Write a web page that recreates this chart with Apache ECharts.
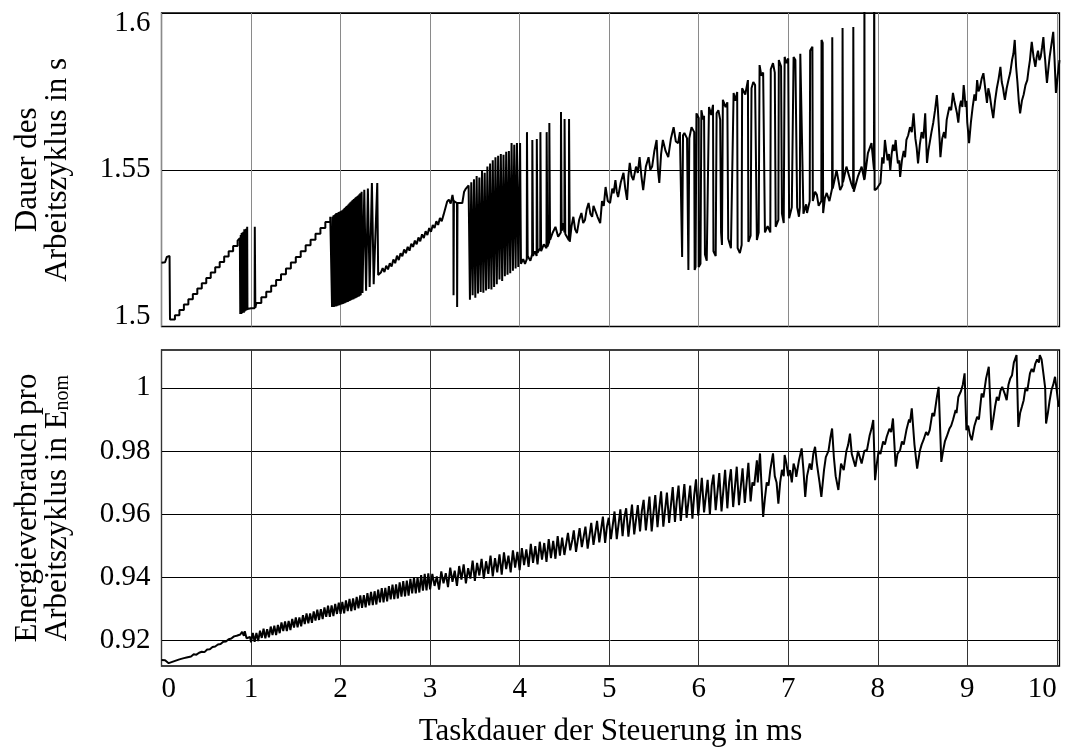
<!DOCTYPE html>
<html>
<head>
<meta charset="utf-8">
<script src="https://cdn.jsdelivr.net/npm/echarts@6/dist/echarts.min.js"></script>
<style>
html,body{margin:0;padding:0;background:#fff;}
#chart{width:1066px;height:749px;}
</style>
</head>
<body>
<div id="chart"></div>
<script>
// ---- Top panel: Dauer des Arbeitszyklus (s) vs Taskdauer (ms) ----
const cycleStart = [[0,1.5203],[0.04,1.5205],[0.06,1.5222],[0.09,1.5225],[0.095,1.5022],[0.15,1.5022],[0.15,1.5036],[0.2,1.5036],[0.2,1.5053],[0.25,1.5053],[0.25,1.507],[0.3,1.507],[0.3,1.5087],[0.35,1.5087],[0.35,1.5104],[0.4,1.5104],[0.4,1.5121],[0.45,1.5121],[0.45,1.5138],[0.5,1.5138],[0.5,1.5155],[0.55,1.5155],[0.55,1.5172],[0.6,1.5172],[0.6,1.5189],[0.65,1.5189],[0.65,1.5206],[0.7,1.5206],[0.7,1.5223],[0.75,1.5223],[0.75,1.524],[0.8,1.524],[0.8,1.5257],[0.85,1.5257],[0.85,1.5274],[0.875,1.5282]];
const cycleBurst1 = [[0.88,1.504],[0.885,1.5292],[0.89,1.504],[0.895,1.5298],[0.9,1.5042],[0.905,1.53],[0.91,1.5045],[0.915,1.5302],[0.92,1.5044],[0.925,1.531],[0.93,1.5048],[0.935,1.5305],[0.94,1.505],[0.945,1.5312],[0.95,1.5052],[0.957,1.5318],[0.96,1.5056],[1.0,1.5058],[1.04,1.5058],[1.042,1.5318],[1.046,1.5318],[1.048,1.506],[1.06,1.506]];
const cycleStairs2 = [[1.06,1.5075],[1.115,1.5075],[1.115,1.5093],[1.17,1.5093],[1.17,1.5111],[1.225,1.5111],[1.225,1.513],[1.28,1.513],[1.28,1.5148],[1.335,1.5148],[1.335,1.5167],[1.39,1.5167],[1.39,1.5185],[1.445,1.5185],[1.445,1.5204],[1.5,1.5204],[1.5,1.5222],[1.555,1.5222],[1.555,1.524],[1.61,1.524],[1.61,1.5259],[1.665,1.5259],[1.665,1.5277],[1.72,1.5277],[1.72,1.5296],[1.775,1.5296],[1.775,1.5314],[1.83,1.5314],[1.83,1.5333],[1.885,1.5333],[1.885,1.535],[1.9,1.5352]];
const cycleBurst2 = [[1.905,1.5062],[1.91,1.535],[1.915,1.5063],[1.92,1.5354],[1.925,1.5062],[1.93,1.5356],[1.935,1.5064],[1.94,1.5358],[1.945,1.5064],[1.95,1.5361],[1.955,1.5065],[1.96,1.5362],[1.965,1.5066],[1.97,1.5363],[1.975,1.5067],[1.98,1.5365],[1.985,1.5068],[1.99,1.5366],[1.995,1.5069],[2.0,1.5368],[2.005,1.507],[2.01,1.5369],[2.015,1.5071],[2.02,1.5371],[2.025,1.5072],[2.03,1.5373],[2.035,1.5073],[2.04,1.5376],[2.045,1.5074],[2.05,1.5379],[2.055,1.5076],[2.06,1.5382],[2.065,1.5077],[2.07,1.5384],[2.075,1.5078],[2.08,1.5387],[2.085,1.5079],[2.09,1.539],[2.095,1.5081],[2.1,1.5393],[2.105,1.5082],[2.11,1.5396],[2.115,1.5084],[2.12,1.5399],[2.125,1.5085],[2.13,1.5402],[2.135,1.5086],[2.14,1.5404],[2.145,1.5087],[2.15,1.5407],[2.155,1.5089],[2.16,1.5409],[2.165,1.509],[2.17,1.5412],[2.175,1.5092],[2.18,1.5414],[2.185,1.5093],[2.19,1.5416],[2.195,1.5095],[2.2,1.5419],[2.205,1.5096],[2.21,1.5422],[2.215,1.5098],[2.22,1.5425],[2.225,1.51],[2.235,1.543],[2.245,1.5107],[2.265,1.5436],[2.285,1.5114],[2.305,1.544],[2.325,1.5126],[2.35,1.5458],[2.37,1.5135],[2.38,1.514],[2.41,1.5458],[2.42,1.5164]];
const cycleRise3 = [[2.45,1.5172],[2.47,1.5186],[2.49,1.5174],[2.51,1.5194],[2.53,1.5182],[2.55,1.5202],[2.57,1.5191],[2.59,1.5214],[2.61,1.5202],[2.63,1.5226],[2.65,1.5212],[2.67,1.5234],[2.69,1.5224],[2.71,1.5246],[2.73,1.5234],[2.75,1.5254],[2.77,1.5242],[2.79,1.5264],[2.81,1.5254],[2.83,1.5274],[2.85,1.5262],[2.87,1.5284],[2.89,1.5272],[2.91,1.5294],[2.93,1.5282],[2.95,1.5304],[2.97,1.5292],[2.99,1.5314],[3.01,1.5302],[3.03,1.5324],[3.05,1.5314],[3.07,1.5336],[3.09,1.5324],[3.11,1.5346],[3.13,1.5336],[3.15,1.5356],[3.17,1.5362],[3.19,1.5398],[3.21,1.5405],[3.23,1.5392],[3.25,1.542],[3.26,1.5402],[3.262,1.51],[3.266,1.54],[3.28,1.5398],[3.3,1.5394],[3.302,1.5062],[3.306,1.5394],[3.33,1.5394],[3.36,1.5394],[3.38,1.543],[3.4,1.544],[3.42,1.5445]];
const cycleBurst3 = [[3.43,1.545],[3.445,1.5085],[3.46,1.546],[3.475,1.51],[3.49,1.547],[3.505,1.5092],[3.52,1.548],[3.535,1.5105],[3.55,1.5475],[3.565,1.511],[3.58,1.5499],[3.595,1.5108],[3.61,1.549],[3.625,1.5115],[3.64,1.551],[3.655,1.512],[3.67,1.552],[3.685,1.5118],[3.7,1.553],[3.715,1.5126],[3.73,1.554],[3.745,1.5135],[3.76,1.5545],[3.775,1.515],[3.79,1.555],[3.805,1.5145],[3.82,1.5548],[3.835,1.516],[3.85,1.5557],[3.865,1.5165],[3.88,1.556],[3.895,1.517],[3.91,1.5585],[3.925,1.5178],[3.94,1.558],[3.955,1.5185],[3.97,1.5585],[3.985,1.519],[4.0,1.5195],[4.005,1.5585],[4.015,1.52],[4.04,1.5215],[4.06,1.52],[4.08,1.5215],[4.082,1.562],[4.09,1.5225],[4.12,1.521],[4.14,1.523],[4.142,1.5595],[4.15,1.5225],[4.17,1.524],[4.19,1.5225],[4.192,1.5598],[4.2,1.5235],[4.23,1.525],[4.232,1.562],[4.24,1.524],[4.27,1.5262],[4.3,1.525],[4.302,1.562],[4.31,1.5255],[4.33,1.527],[4.332,1.5649],[4.34,1.5276],[4.37,1.53],[4.4,1.5318],[4.43,1.5286],[4.46,1.53],[4.462,1.5684],[4.47,1.5305],[4.49,1.533],[4.5,1.53],[4.502,1.5662],[4.51,1.5295],[4.53,1.5298],[4.55,1.5275],[4.552,1.5662],[4.56,1.527]];
const cycleRise4 = [[4.58,1.532],[4.6,1.535],[4.62,1.531],[4.64,1.5298],[4.665,1.534],[4.69,1.5362],[4.71,1.533],[4.73,1.534],[4.75,1.5375],[4.77,1.5394],[4.79,1.536],[4.81,1.535],[4.825,1.5385],[4.84,1.5381],[4.87,1.535],[4.9,1.533],[4.92,1.54],[4.94,1.5385],[4.96,1.5445],[4.985,1.54],[5.01,1.5394],[5.035,1.544],[5.05,1.5425],[5.07,1.5467],[5.085,1.543],[5.1,1.5413],[5.13,1.546],[5.16,1.549],[5.18,1.544],[5.2,1.5404],[5.215,1.548],[5.23,1.5522],[5.25,1.548],[5.27,1.5467],[5.3,1.551],[5.32,1.549],[5.34,1.554],[5.36,1.548],[5.38,1.5435],[5.41,1.551],[5.44,1.554],[5.46,1.55],[5.48,1.551],[5.505,1.556],[5.53,1.5595],[5.545,1.55],[5.56,1.5458],[5.58,1.555],[5.6,1.5595],[5.63,1.556],[5.66,1.554],[5.69,1.56],[5.72,1.5636],[5.745,1.559],[5.77,1.5585],[5.79,1.562],[5.81,1.5617],[5.815,1.5222],[5.825,1.561],[5.84,1.5617],[5.87,1.56],[5.885,1.518],[5.895,1.56],[5.92,1.5636],[5.95,1.562],[5.955,1.518],[5.965,1.519],[5.975,1.568]];
const cycleBurst4 = [[5.98,1.568],[6.0,1.5665],[6.0,1.519],[6.02,1.52],[6.03,1.569],[6.05,1.566],[6.06,1.5672],[6.07,1.523],[6.09,1.521],[6.11,1.5206],[6.115,1.57],[6.14,1.5675],[6.16,1.5707],[6.165,1.524],[6.19,1.5225],[6.2,1.568],[6.22,1.569],[6.24,1.566],[6.25,1.53],[6.26,1.526],[6.27,1.5723],[6.3,1.57],[6.32,1.5715],[6.33,1.528],[6.36,1.525],[6.39,1.5745],[6.41,1.572],[6.43,1.5748],[6.435,1.525],[6.46,1.5234],[6.48,1.526],[6.485,1.576],[6.52,1.574],[6.55,1.5786],[6.555,1.527],[6.58,1.529],[6.59,1.576],[6.61,1.578],[6.63,1.577],[6.65,1.5276],[6.67,1.53],[6.68,1.5834],[6.7,1.58],[6.72,1.581],[6.74,1.53],[6.77,1.532],[6.8,1.53],[6.805,1.582],[6.83,1.584],[6.85,1.581],[6.86,1.5318],[6.89,1.534],[6.895,1.585],[6.92,1.583],[6.93,1.536],[6.95,1.533],[6.96,1.586],[6.98,1.584],[7.0,1.5855],[7.01,1.5345],[7.02,1.534],[7.04,1.538],[7.06,1.586],[7.08,1.585],[7.1,1.538],[7.12,1.535],[7.13,1.538],[7.135,1.587],[7.15,1.5872],[7.17,1.536],[7.2,1.539],[7.21,1.5362],[7.24,1.54],[7.245,1.588],[7.26,1.5885],[7.27,1.5892],[7.275,1.54],[7.3,1.543],[7.32,1.542],[7.34,1.5385],[7.37,1.54],[7.372,1.5914],[7.385,1.5905],[7.39,1.5362],[7.41,1.541],[7.43,1.5426],[7.46,1.54],[7.49,1.544],[7.492,1.5923],[7.497,1.544],[7.52,1.547],[7.54,1.5499],[7.58,1.5435],[7.605,1.545],[7.607,1.5952],[7.612,1.546],[7.65,1.551],[7.7,1.546],[7.725,1.544],[7.727,1.5955],[7.732,1.543],[7.75,1.5426],[7.78,1.548],[7.82,1.551],[7.85,1.5467],[7.851,1.615],[7.853,1.547],[7.89,1.5553],[7.93,1.5585],[7.958,1.55],[7.96,1.615],[7.963,1.615],[7.965,1.5435],[7.99,1.544]];
const cycleTail = [[8.0,1.5445],[8.03,1.5458],[8.05,1.554],[8.065,1.552],[8.08,1.5595],[8.095,1.556],[8.11,1.553],[8.125,1.555],[8.14,1.5499],[8.155,1.555],[8.17,1.558],[8.185,1.556],[8.2,1.5595],[8.21,1.556],[8.225,1.552],[8.24,1.553],[8.25,1.5477],[8.27,1.553],[8.29,1.556],[8.305,1.554],[8.32,1.5595],[8.34,1.561],[8.36,1.5636],[8.38,1.562],[8.4,1.568],[8.41,1.564],[8.42,1.56],[8.435,1.557],[8.45,1.552],[8.47,1.558],[8.49,1.562],[8.51,1.56],[8.53,1.568],[8.54,1.56],[8.55,1.5522],[8.565,1.556],[8.58,1.556],[8.6,1.562],[8.62,1.565],[8.64,1.569],[8.66,1.5738],[8.67,1.57],[8.68,1.565],[8.69,1.56],[8.7,1.554],[8.72,1.56],[8.74,1.562],[8.755,1.56],[8.77,1.5659],[8.785,1.568],[8.8,1.57],[8.82,1.569],[8.84,1.5745],[8.855,1.572],[8.87,1.57],[8.885,1.568],[8.9,1.565],[8.915,1.57],[8.93,1.572],[8.945,1.57],[8.96,1.577],[8.97,1.574],[8.98,1.57],[8.99,1.572],[9.0,1.565],[9.01,1.562],[9.02,1.5585],[9.04,1.565],[9.06,1.57],[9.08,1.574],[9.095,1.572],[9.11,1.5786],[9.125,1.575],[9.14,1.576],[9.16,1.579],[9.18,1.5808],[9.2,1.576],[9.22,1.5713],[9.235,1.576],[9.25,1.574],[9.27,1.57],[9.29,1.5665],[9.31,1.572],[9.33,1.576],[9.35,1.579],[9.37,1.5828],[9.385,1.578],[9.4,1.576],[9.41,1.574],[9.42,1.5723],[9.44,1.576],[9.46,1.5786],[9.48,1.581],[9.5,1.585],[9.515,1.587],[9.53,1.5914],[9.545,1.583],[9.56,1.578],[9.575,1.572],[9.59,1.568],[9.61,1.572],[9.63,1.574],[9.65,1.577],[9.67,1.5786],[9.685,1.582],[9.7,1.585],[9.71,1.588],[9.72,1.5908],[9.74,1.586],[9.76,1.5828],[9.775,1.586],[9.79,1.588],[9.805,1.585],[9.82,1.586],[9.835,1.589],[9.85,1.5923],[9.86,1.588],[9.87,1.585],[9.88,1.581],[9.89,1.5777],[9.905,1.582],[9.92,1.586],[9.94,1.59],[9.96,1.594],[9.975,1.585],[9.99,1.5745],[10.0,1.577],[10.01,1.58],[10.03,1.585]];

// ---- Bottom panel: Energieverbrauch pro Arbeitszyklus (E_nom) ----
const energyStart = [[0,0.9137],[0.02,0.914],[0.04,0.9136],[0.06,0.9133],[0.08,0.9127],[0.1,0.9124],[0.12,0.9131],[0.14,0.9129],[0.16,0.9135],[0.18,0.9133],[0.2,0.9139],[0.22,0.9137],[0.25,0.9143],[0.28,0.9145],[0.3,0.9149],[0.33,0.9148],[0.36,0.9155],[0.39,0.9154],[0.42,0.916],[0.45,0.9163],[0.48,0.9162],[0.51,0.917],[0.54,0.9171],[0.57,0.9178],[0.6,0.918],[0.63,0.9186],[0.66,0.9188],[0.69,0.9195],[0.72,0.9196],[0.75,0.9203],[0.78,0.9205],[0.81,0.9212],[0.84,0.9214],[0.86,0.922],[0.88,0.9218],[0.9,0.9226],[0.92,0.9214],[0.93,0.9228],[0.95,0.9206],[0.97,0.9202],[0.99,0.921]];
const energyBand = [[1.0,0.9193],[1.02,0.9223],[1.04,0.9195],[1.06,0.9223],[1.08,0.9197],[1.1,0.923],[1.12,0.9207],[1.14,0.9236],[1.16,0.9206],[1.18,0.9235],[1.2,0.9209],[1.22,0.9243],[1.24,0.9216],[1.26,0.9246],[1.28,0.9216],[1.3,0.9248],[1.32,0.9222],[1.34,0.9256],[1.36,0.9229],[1.38,0.9259],[1.4,0.9229],[1.42,0.9261],[1.44,0.9232],[1.46,0.9267],[1.48,0.924],[1.5,0.9272],[1.52,0.9241],[1.54,0.9272],[1.56,0.9244],[1.58,0.9279],[1.6,0.9251],[1.62,0.9285],[1.64,0.9253],[1.66,0.9285],[1.68,0.9255],[1.7,0.9291],[1.72,0.9262],[1.74,0.9297],[1.76,0.9264],[1.78,0.9298],[1.8,0.9267],[1.82,0.9304],[1.84,0.9274],[1.86,0.9309],[1.88,0.9274],[1.9,0.931],[1.92,0.9276],[1.94,0.9315],[1.96,0.9283],[1.98,0.9319],[2.0,0.9283],[2.02,0.9321],[2.04,0.9285],[2.06,0.9326],[2.08,0.9292],[2.1,0.9331],[2.12,0.9292],[2.14,0.9332],[2.16,0.9295],[2.18,0.9337],[2.2,0.9301],[2.22,0.9342],[2.24,0.9302],[2.26,0.9343],[2.28,0.9304],[2.3,0.9349],[2.32,0.931],[2.34,0.9353],[2.36,0.9311],[2.38,0.9355],[2.4,0.9313],[2.42,0.936],[2.44,0.932],[2.46,0.9365],[2.48,0.932],[2.5,0.9366],[2.52,0.9323],[2.54,0.9371],[2.56,0.9329],[2.58,0.9376],[2.6,0.933],[2.62,0.9377],[2.64,0.9332],[2.66,0.9383],[2.68,0.9338],[2.7,0.9387],[2.72,0.9339],[2.74,0.9389],[2.76,0.9341],[2.78,0.9394],[2.8,0.9348],[2.82,0.9399],[2.84,0.9348],[2.86,0.94],[2.88,0.9351],[2.9,0.9406],[2.92,0.9357],[2.94,0.941],[2.96,0.9358],[2.98,0.9412]];
const energyDense = [[3.0,0.9361],[3.025,0.941],[3.05,0.9372],[3.075,0.9402],[3.1,0.936],[3.125,0.9418],[3.15,0.938],[3.175,0.9412],[3.2,0.9368],[3.225,0.943],[3.25,0.9385],[3.275,0.942],[3.3,0.9372],[3.325,0.9435],[3.35,0.9392],[3.375,0.944],[3.4,0.938],[3.425,0.9428],[3.45,0.9395],[3.475,0.9452],[3.5,0.9388],[3.525,0.9445],[3.55,0.9405],[3.575,0.9458],[3.6,0.9395],[3.625,0.945],[3.65,0.941],[3.675,0.9468],[3.7,0.9402],[3.725,0.946],[3.75,0.9415],[3.775,0.9472],[3.8,0.9408],[3.825,0.9478],[3.85,0.9425],[3.875,0.9468],[3.9,0.9415],[3.925,0.9485],[3.95,0.943],[3.975,0.948],[4.0,0.9422],[4.025,0.9492],[4.05,0.9438],[4.075,0.9488],[4.1,0.9432],[4.125,0.9505],[4.15,0.9445],[4.175,0.9498],[4.2,0.944],[4.225,0.9512],[4.25,0.9455],[4.275,0.9508],[4.3,0.9448],[4.325,0.952],[4.35,0.946],[4.375,0.9515],[4.4,0.9458],[4.425,0.953],[4.45,0.9468],[4.475,0.9525]];
const energyMid = [[4.5,0.947],[4.54,0.954],[4.565,0.9485],[4.59,0.952],[4.605,0.9548],[4.63,0.948],[4.67,0.9555],[4.695,0.9495],[4.735,0.956],[4.76,0.949],[4.785,0.954],[4.8,0.9572],[4.825,0.9502],[4.865,0.9578],[4.89,0.951],[4.93,0.9592],[4.955,0.9508],[4.975,0.956],[4.995,0.9588],[5.02,0.952],[5.06,0.9608],[5.085,0.952],[5.125,0.9615],[5.15,0.953],[5.17,0.959],[5.19,0.9618],[5.215,0.9528],[5.255,0.963],[5.28,0.9535],[5.32,0.9628],[5.345,0.9545],[5.365,0.961],[5.385,0.9645],[5.41,0.9548],[5.45,0.9655],[5.475,0.9545],[5.515,0.966],[5.54,0.9558],[5.56,0.962],[5.58,0.9672],[5.605,0.956],[5.645,0.9668],[5.67,0.9572],[5.71,0.9685],[5.735,0.9575],[5.755,0.964],[5.775,0.969],[5.8,0.9578],[5.84,0.9695],[5.865,0.9588],[5.905,0.969],[5.93,0.9585],[5.95,0.966],[5.97,0.971],[5.995,0.9595],[6.035,0.9715],[6.06,0.9605],[6.1,0.9708],[6.125,0.9598],[6.145,0.969],[6.165,0.9725],[6.19,0.9612],[6.23,0.973],[6.255,0.9608],[6.295,0.974],[6.32,0.9618],[6.34,0.97],[6.36,0.9742],[6.385,0.9622],[6.425,0.975],[6.45,0.9628],[6.49,0.9745],[6.515,0.9635],[6.555,0.9762]];
const energyTail = [[6.58,0.964],[6.6,0.97],[6.62,0.969],[6.65,0.977],[6.66,0.97],[6.685,0.9792],[6.7,0.97],[6.72,0.9591],[6.74,0.965],[6.76,0.97],[6.78,0.969],[6.8,0.974],[6.83,0.9792],[6.85,0.972],[6.87,0.97],[6.89,0.9633],[6.91,0.97],[6.93,0.974],[6.95,0.972],[6.96,0.9787],[6.98,0.976],[7.0,0.972],[7.02,0.9739],[7.04,0.97],[7.06,0.976],[7.08,0.974],[7.09,0.9718],[7.12,0.977],[7.15,0.9808],[7.17,0.974],[7.19,0.9654],[7.21,0.972],[7.24,0.976],[7.26,0.974],[7.28,0.979],[7.3,0.9813],[7.32,0.976],[7.35,0.97],[7.37,0.9654],[7.4,0.974],[7.42,0.978],[7.45,0.98],[7.47,0.984],[7.49,0.9871],[7.51,0.978],[7.53,0.972],[7.56,0.9676],[7.59,0.976],[7.62,0.9739],[7.65,0.98],[7.67,0.982],[7.69,0.9855],[7.71,0.979],[7.73,0.977],[7.75,0.975],[7.78,0.98],[7.8,0.978],[7.82,0.976],[7.85,0.98],[7.88,0.9803],[7.91,0.985],[7.93,0.987],[7.95,0.9898],[7.97,0.9707],[7.99,0.976],[8.01,0.98],[8.03,0.979],[8.06,0.983],[8.08,0.982],[8.1,0.9845],[8.13,0.987],[8.15,0.986],[8.17,0.9903],[8.2,0.975],[8.22,0.979],[8.25,0.9803],[8.27,0.983],[8.29,0.982],[8.32,0.9866],[8.35,0.99],[8.36,0.989],[8.38,0.9935],[8.41,0.982],[8.44,0.9744],[8.47,0.98],[8.49,0.982],[8.51,0.9834],[8.54,0.986],[8.56,0.985],[8.58,0.9866],[8.61,0.992],[8.63,0.991],[8.66,0.997],[8.68,1.0003],[8.71,0.9765],[8.73,0.98],[8.75,0.983],[8.77,0.9845],[8.8,0.987],[8.82,0.988],[8.84,0.9898],[8.87,0.993],[8.88,0.992],[8.9,0.9971],[8.93,0.999],[8.95,1.001],[8.97,1.0046],[8.99,0.9866],[9.01,0.988],[9.03,0.985],[9.05,0.9834],[9.08,0.988],[9.11,0.9908],[9.13,0.99],[9.16,0.9982],[9.18,0.997],[9.21,1.003],[9.24,1.0067],[9.27,0.9866],[9.29,0.99],[9.31,0.994],[9.33,0.9971],[9.35,0.996],[9.37,0.999],[9.39,1.0003],[9.42,0.998],[9.44,0.9961],[9.46,1.001],[9.48,1.003],[9.5,1.004],[9.52,1.008],[9.55,1.0104],[9.57,0.9876],[9.59,0.992],[9.61,0.994],[9.63,0.9961],[9.65,1.0],[9.67,0.999],[9.7,1.0046],[9.72,1.006],[9.74,1.005],[9.76,1.0077],[9.78,1.009],[9.8,1.008],[9.81,1.0104],[9.83,1.009],[9.85,1.0046],[9.87,1.0],[9.88,0.9887],[9.9,0.992],[9.92,0.996],[9.94,0.9993],[9.96,1.001],[9.98,1.0035],[10.0,0.999],[10.02,0.994]];

// ---- Axis ticks and labels ----
const xTicks = [0,1,2,3,4,5,6,7,8,9,10];
const xMax = 10.03;
const cycleTicks = [1.5, 1.55, 1.6];
const energyTicks = [0.92, 0.94, 0.96, 0.98, 1];
const energyMin = 0.9118, energyMax = 1.012;
const xTitle = 'Taskdauer der Steuerung in ms';
const cycleTitle = 'Dauer des\nArbeitszyklus in s';
const energyTitle = 'Energieverbrauch pro\nArbeitszyklus in E{sub|nom}';

const cycleData = [].concat(cycleStart, cycleBurst1, cycleStairs2, cycleBurst2, cycleRise3, cycleBurst3, cycleRise4, cycleBurst4, cycleTail);
const energyData = [].concat(energyStart, energyBand, energyDense, energyMid, energyTail);

const FONT = "'Liberation Serif', 'DejaVu Serif', serif";
const FS = 29;
const TFS = 31;

const chart = echarts.init(document.getElementById('chart'), null, {renderer: 'canvas'});
chart.setOption({
  animation: false,
  backgroundColor: '#fff',
  grid: [
    {left: 161.5, top: 13, width: 898, height: 313.5, show: true, borderColor: '#000', borderWidth: 1.3, backgroundColor: 'transparent', containLabel: false, outerBoundsMode: 'none'},
    {left: 161.5, top: 350, width: 898, height: 316, show: true, borderColor: '#000', borderWidth: 1.3, backgroundColor: 'transparent', containLabel: false, outerBoundsMode: 'none'}
  ],
  xAxis: [
    {gridIndex: 0, type: 'value', min: 0, max: xMax, interval: 1,
     axisLine: {show: false}, axisTick: {show: false, customValues: xTicks}, axisLabel: {show: false, customValues: xTicks},
     splitLine: {show: true, lineStyle: {color: '#8a8a8a', width: 1}}},
    {gridIndex: 1, type: 'value', min: 0, max: xMax, interval: 1,
     axisLine: {show: false}, axisTick: {show: false, customValues: xTicks},
     axisLabel: {show: true, color: '#000', fontFamily: FONT, fontSize: FS, margin: 9, customValues: xTicks,
       alignMinLabel: 'left', alignMaxLabel: 'right'},
     splitLine: {show: true, lineStyle: {color: '#333', width: 1}},
     name: xTitle, nameLocation: 'middle', nameGap: 50,
     nameTextStyle: {color: '#000', fontFamily: FONT, fontSize: TFS}}
  ],
  yAxis: [
    {gridIndex: 0, type: 'value', min: 1.5, max: 1.6, interval: 0.05,
     axisLine: {show: false}, axisTick: {show: false, customValues: cycleTicks},
     axisLabel: {color: '#000', fontFamily: FONT, fontSize: FS, margin: 11, lineHeight: 20,
       customValues: cycleTicks,
       verticalAlignMinLabel: 'bottom', verticalAlignMaxLabel: 'top'},
     splitLine: {show: true, lineStyle: {color: '#000', width: 1}},
     name: cycleTitle, nameLocation: 'middle', nameGap: 89, nameRotate: 90,
     nameTextStyle: {color: '#000', fontFamily: FONT, fontSize: TFS, lineHeight: 30}},
    {gridIndex: 1, type: 'value', min: energyMin, max: energyMax,
     axisLine: {show: false}, axisTick: {show: false, customValues: energyTicks},
     axisLabel: {color: '#000', fontFamily: FONT, fontSize: FS, margin: 11,
       customValues: energyTicks},
     splitLine: {show: true, lineStyle: {color: '#000', width: 1}},
     name: energyTitle, nameLocation: 'middle', nameGap: 89, nameRotate: 90,
     nameTextStyle: {color: '#000', fontFamily: FONT, fontSize: TFS, lineHeight: 30,
       rich: {sub: {fontFamily: FONT, fontSize: 20, lineHeight: 18, verticalAlign: 'bottom', color: '#000'}}}}
  ],
  series: [
    {type: 'line', xAxisIndex: 0, yAxisIndex: 0, data: cycleData, showSymbol: false,
     lineStyle: {color: '#000', width: 2}, clip: true, z: 3},
    {type: 'line', xAxisIndex: 1, yAxisIndex: 1, data: energyData, showSymbol: false,
     lineStyle: {color: '#000', width: 2}, clip: true, z: 3}
  ]
});
</script>
</body>
</html>
